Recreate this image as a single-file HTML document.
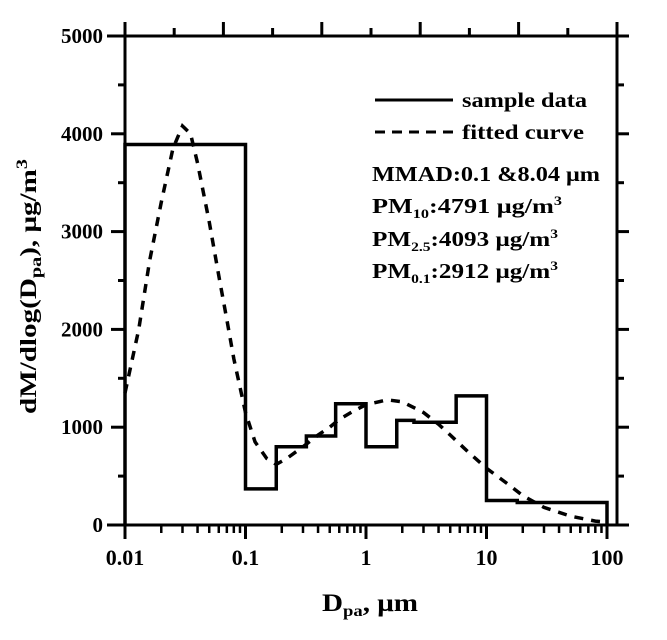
<!DOCTYPE html>
<html><head><meta charset="utf-8"><style>
body{margin:0;background:#fff}
svg text{font-family:"Liberation Serif",serif;font-weight:bold;fill:#000}
</style></head><body>
<svg width="667" height="635" viewBox="0 0 667 635">
<g id="axes"></g>
<g id="marks"></g>
<g>
<line x1="375" y1="100" x2="453" y2="100" stroke="#000" stroke-width="3"/>
<text x="462" y="107" font-size="21" textLength="125" lengthAdjust="spacingAndGlyphs">sample data</text>
<line x1="375" y1="132" x2="453" y2="132" stroke="#000" stroke-width="3" stroke-dasharray="10,7"/>
<text x="462" y="139" font-size="21" textLength="122" lengthAdjust="spacingAndGlyphs">fitted curve</text>
<text x="372" y="181" font-size="21" textLength="228" lengthAdjust="spacingAndGlyphs">MMAD:0.1 &amp;8.04 μm</text>
<text x="372" y="213" font-size="21" textLength="190" lengthAdjust="spacingAndGlyphs">PM<tspan font-size="13" dy="5">10</tspan><tspan dy="-5">:4791  μg/m</tspan><tspan font-size="13" dy="-8">3</tspan></text>
<text x="372" y="246" font-size="21" textLength="186" lengthAdjust="spacingAndGlyphs">PM<tspan font-size="13" dy="5">2.5</tspan><tspan dy="-5">:4093 μg/m</tspan><tspan font-size="13" dy="-8">3</tspan></text>
<text x="372" y="278" font-size="21" textLength="186" lengthAdjust="spacingAndGlyphs">PM<tspan font-size="13" dy="5">0.1</tspan><tspan dy="-5">:2912 μg/m</tspan><tspan font-size="13" dy="-8">3</tspan></text>
</g>
<text x="322" y="611" font-size="25" textLength="96" lengthAdjust="spacingAndGlyphs">D<tspan font-size="16" dy="5">pa</tspan><tspan dy="-5">, μm</tspan></text>
<text transform="translate(36,287) rotate(-90)" x="-127" y="0" font-size="23" textLength="255" lengthAdjust="spacingAndGlyphs">dM/dlog(D<tspan font-size="16" dy="5">pa</tspan><tspan dy="-5">), μg/m</tspan><tspan font-size="16" dy="-9">3</tspan></text>
</svg>
<script>
const binEdges=[0.01,0.1,0.18,0.32,0.56,1.0,1.8,2.5,5.6,10,18,100];
const binValues=[3890,370,800,910,1240,800,1070,1050,1320,250,230];
const fitX=[0.01,0.013,0.016,0.02,0.025,0.03,0.035,0.04,0.05,0.06,0.07,0.08,0.1,0.12,0.15,0.18,0.22,0.3,0.4,0.5,0.6,0.8,1,1.5,2,3,4,5,7,10,15,20,30,50,80,100];
const fitY=[1350,2000,2700,3300,3850,4080,4000,3700,3100,2550,2100,1700,1150,850,680,620,680,800,920,1000,1080,1170,1230,1280,1260,1150,1030,920,750,580,420,300,180,90,40,30];
const xTicks=[0.01,0.1,1,10,100];
const xTickLabels=["0.01","0.1","1","10","100"];
const yTicks=[0,1000,2000,3000,4000,5000];
const yTickLabels=["0","1000","2000","3000","4000","5000"];
const X0=125,DEC=120.5,Y0=525,YS=(525-36)/5000;
const sx=v=>X0+Math.log10(v/0.01)*DEC;
const sy=v=>Y0-v*YS;
const NS="http://www.w3.org/2000/svg";
function mk(tag,attrs,parent){const e=document.createElementNS(NS,tag);for(const k in attrs)e.setAttribute(k,attrs[k]);parent.appendChild(e);return e;}
const axes=document.getElementById('axes'),marks=document.getElementById('marks');
const L=125,R=617,T=36,B=525;
const fr=mk('rect',{x:L,y:T,width:R-L,height:B-T,fill:'none',stroke:'#000','stroke-width':3},axes);


const ext=mk('line',{x1:107,y1:B,x2:R+12,y2:B,stroke:'#000','stroke-width':3},axes);


const ext2=mk('line',{x1:107,y1:T,x2:R+12,y2:T,stroke:'#000','stroke-width':3},axes);


for(let d=0.01;d<100;d*=10){for(let m=1;m<10;m++){const v=d*m;const x=sx(v);const major=m===1;
const t=mk('line',{x1:x,y1:B,x2:x,y2:B+(major?14:8),stroke:'#000','stroke-width':major?3:2.5},axes);

}}
const tl=mk('line',{x1:sx(100),y1:B,x2:sx(100),y2:B+14,stroke:'#000','stroke-width':3},axes);


xTicks.forEach((v,i)=>{const t=mk('text',{x:sx(v),y:B+40,'font-size':22,'text-anchor':'middle'},axes);t.textContent=xTickLabels[i];

});
yTicks.forEach((v,i)=>{const y=sy(v);
const a=mk('line',{x1:L-14,y1:y,x2:L,y2:y,stroke:'#000','stroke-width':3},axes);


const b=mk('line',{x1:R,y1:y,x2:R+12,y2:y,stroke:'#000','stroke-width':3},axes);


if(i<yTicks.length-1){const ym=sy(v+500);
const c=mk('line',{x1:L-7,y1:ym,x2:L,y2:ym,stroke:'#000','stroke-width':3},axes);


const d=mk('line',{x1:R,y1:ym,x2:R+7,y2:ym,stroke:'#000','stroke-width':3},axes);

}
const t=mk('text',{x:103,y:y+7,'font-size':21,'text-anchor':'end'},axes);t.textContent=yTickLabels[i];

});
for(let i=0;i<=10;i++){const x=L+(R-L)*i/10;const tt=mk('line',{x1:x,y1:T-(i%2?8:14),x2:x,y2:T,stroke:'#000','stroke-width':3},axes);

}
let d='M'+sx(binEdges[0])+','+sy(0);
binValues.forEach((v,i)=>{d+=' L'+sx(binEdges[i])+','+sy(v)+' L'+sx(binEdges[i+1])+','+sy(v);});
d+=' L'+sx(binEdges[binEdges.length-1])+','+sy(0);
const h=mk('path',{d:d,fill:'none',stroke:'#000','stroke-width':3.5},marks);


const fd=fitX.map((x,i)=>(i?'L':'M')+sx(x)+','+sy(fitY[i])).join(' ');
const f=mk('path',{d:fd,fill:'none',stroke:'#000','stroke-width':3.5,'stroke-dasharray':'9,8'},marks);


</script>
</body></html>
